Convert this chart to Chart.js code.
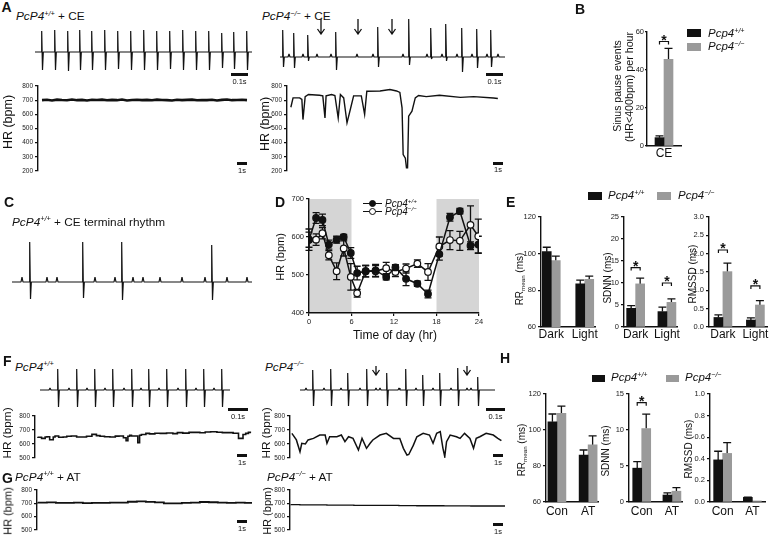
<!DOCTYPE html>
<html>
<head>
<meta charset="utf-8">
<title>Pcp4 heart rate figure</title>
<script src="https://cdn.jsdelivr.net/npm/chart.js@4.4.1/dist/chart.umd.min.js"></script>
<style>
  body { margin: 0; background: #fff; }
  #fig { position: relative; width: 773px; height: 544px; overflow: hidden;
         font-family: "Liberation Sans", Arial, sans-serif; color: #111; }
  #fig canvas { position: absolute; }
  .t { position: absolute; white-space: nowrap; line-height: 1; }
  sup { font-size: 62%; position: relative; top: -0.55em; vertical-align: baseline; line-height: 0; }
  sub { font-size: 62%; position: relative; top: 0.3em; vertical-align: baseline; line-height: 0; }
  .box { position: absolute; box-sizing: border-box; }
</style>
</head>
<body>
<div id="fig"></div>
<script>
// ---------- data ----------

// A: ECG beats (px along the strip), R and S heights (px)
const ecgA1Beats = [7, 20, 33, 45, 57, 70, 83, 96, 109, 122, 135, 148, 161, 174, 187, 199, 212];
const ecgA1R = [21, 22, 21, 22, 21, 22, 21, 21, 22, 21, 21, 22, 21, 21, 19, 20, 21];
const ecgA1S = [18, 18, 19, 18, 18, 18, 17, 18, 18, 18, 17, 18, 18, 18, 16, 17, 18];
const ecgA2Beats = [3, 14, 28, 56, 98, 129, 151, 166, 182, 197, 211];
const ecgA2R = [27, 24, 22, 25, 30, 38, 29, 33, 29, 28, 27];
const ecgA2S = [10, 11, 4, 13, 10, 8, 2, 4, 15, 11, 10];
const ecgA2P = [9, 23, 37, 51, 77, 93, 123, 147, 162, 177, 192, 207, 218];

// A: heart rate traces (bpm); A1 sampled every 0.5 s, A2 as [s, bpm]
const hrA1 = [700, 703, 698, 704, 701, 699, 705, 700, 702, 698, 703, 701, 704, 699, 702, 700, 705, 698, 701, 703, 700,
              702, 699, 704, 701, 700, 698, 703, 700, 702, 704, 699, 701, 700, 703, 698, 702, 705, 700, 701, 703, 700];
const hrA2 = [[0, 650], [0.2, 716], [0.8, 716], [1.0, 705], [1.1, 563], [1.3, 725], [1.6, 740], [2.6, 735], [2.9, 730],
              [3.1, 575], [3.2, 730], [3.7, 740], [4.0, 733], [4.3, 575], [4.5, 740], [4.8, 716], [5.1, 540], [5.4, 634],
              [5.7, 730], [6.4, 730], [6.7, 600], [6.9, 763], [8.1, 765], [9.0, 775], [9.6, 765], [9.9, 755], [10.1, 646],
              [10.2, 316], [10.4, 290], [10.5, 223], [10.6, 223], [10.7, 587], [11.0, 622], [11.3, 716], [11.6, 733],
              [12.3, 725], [13.5, 735], [15.4, 720], [16.6, 725], [18.4, 715], [18.8, 712]];

// B: sinus pause events per hour
const bCats = ['CE'];
const bWT = [4.4], bWTErr = [0.9];
const bKO = [45.6], bKOErr = [5.8];
const bSig = [55];

// C: terminal rhythm strip
const ecgCBeats = [18, 71, 110, 200];
const ecgCR = [40, 40, 40, 37];
const ecgCS = [17, 16, 18, 18];
const ecgCP = [10, 35, 45, 83, 103, 121, 131, 148, 170, 193, 215, 235];

// D: HR over the day
const hours = [0, 1, 1.9, 2.8, 3.9, 4.9, 5.9, 6.8, 8, 9.4, 10.9, 12.2, 13.7, 15.3, 16.8, 18.4, 19.9, 21.3, 22.8, 23.9];
const hrWT = [593, 650, 645, 580, 593, 600, 558, 505, 510, 512, 495, 520, 490, 477, 450, 555, 652, 668, 577, 580];
const hrWTErr = [28, 14, 15, 12, 9, 7, 14, 18, 15, 16, 8, 7, 18, 7, 10, 16, 10, 7, 10, 22];
const hrKO = [593, 593, 610, 552, 510, 570, 495, 452, 510, 510, 518, 508, 517, 530, 508, 575, 592, 590, 632, 602];
const hrKOErr = [20, 15, 15, 12, 22, 20, 35, 10, 15, 15, 15, 12, 12, 10, 22, 25, 25, 25, 50, 45];
const nightBands = [[0, 6], [18, 24]];

// E: HRV, dark vs light
const eCats = ['Dark', 'Light'];
const eRrWT = [101.1, 83.5], eRrWTErr = [2.4, 2.1];
const eRrKO = [96.2, 86], eRrKOErr = [2.5, 1.8];
const eSdWT = [4.25, 3.5], eSdWTErr = [0.6, 1.0];
const eSdKO = [9.8, 5.6], eSdKOErr = [1.3, 0.8];
const eSdSig = [13.5, 10];
const eRmWT = [0.26, 0.19], eRmWTErr = [0.07, 0.06];
const eRmKO = [1.51, 0.6], eRmKOErr = [0.23, 0.12];
const eRmSig = [2.1, 1.12];

// F: ECG strips and HR traces ([s, bpm])
const ecgF1Beats = [18, 37, 55, 73, 92, 109, 127, 146, 164, 182];
const ecgF1R = [21, 21, 21, 21, 21, 21, 21, 21, 21, 21];
const ecgF1S = [17, 17, 17, 17, 17, 17, 17, 17, 17, 17];
const ecgF1P = [10, 29, 47, 65, 84, 101, 119, 138, 156, 174];
const ecgF2Beats = [13, 31, 48, 67, 87, 106, 123, 140, 158, 178];
const ecgF2R = [20, 21, 17, 21, 17, 21, 15, 17, 22, 13];
const ecgF2S = [16, 16, 16, 16, 16, 16, 16, 16, 16, 16];
const ecgF2P = [6, 24, 41, 60, 76, 80, 99, 116, 133, 151, 167, 171];
const hrF1 = [[0, 652], [0.4, 648], [0.8, 640], [1.0, 650], [1.3, 652], [1.7, 630], [1.9, 650], [2.3, 657], [2.8, 648],
              [3.2, 650], [3.7, 655], [4.3, 657], [4.8, 650], [5.4, 650], [6.0, 655], [6.5, 669], [6.9, 660], [7.4, 655],
              [8.0, 652], [8.6, 650], [9.0, 656], [9.5, 657], [9.8, 645], [10.0, 624], [10.2, 655], [10.4, 662], [11.1, 657],
              [11.3, 610], [11.5, 662], [12.0, 668], [12.4, 676], [13.0, 672], [13.6, 677], [14.3, 676], [15.0, 679],
              [15.5, 674], [16.1, 681], [16.8, 678], [17.4, 683], [18.0, 683], [18.6, 680], [19.2, 686], [19.9, 688],
              [20.5, 684], [21.1, 681], [21.7, 681], [22.3, 677], [22.8, 640], [23.1, 668], [23.4, 676], [23.7, 683]];
const hrF2 = [[0.1, 676], [0.6, 629], [1.0, 545], [1.2, 605], [1.6, 600], [1.9, 629], [2.5, 640], [3.2, 664], [3.8, 664],
              [4.0, 605], [4.3, 652], [5.1, 652], [5.6, 664], [6.0, 617], [6.4, 652], [6.9, 640], [7.5, 557], [7.9, 640],
              [8.4, 569], [8.8, 605], [9.1, 629], [9.9, 664], [10.6, 676], [11.4, 640], [12.1, 640], [12.5, 569],
              [12.9, 521], [13.1, 525], [13.6, 590], [14.0, 652], [14.7, 676], [15.4, 664], [15.8, 605], [16.2, 676],
              [16.6, 688], [16.9, 569], [17.1, 510], [17.3, 617], [17.7, 664], [18.4, 652], [18.8, 640], [19.3, 676],
              [19.9, 640], [20.3, 569], [20.6, 640], [21.0, 652], [21.7, 676], [22.5, 664], [23.0, 640], [23.4, 624]];

// G: HR with atropine, one value per second
const hrG1 = [706, 705, 707, 704, 703, 706, 702, 704, 703, 705, 706, 712, 714, 711, 707, 700, 699, 703, 706, 710, 708, 705, 704, 706, 703];
const hrG2 = [692, 690, 689, 689, 688, 687, 686, 686, 685, 685, 684, 684, 684, 683, 683, 682, 682, 682, 681, 681, 681, 680, 680, 680, 680];

// H: HRV, control vs atropine
const hCats = ['Con', 'AT'];
const hRrWT = [104.6, 86.1], hRrWTErr = [4.3, 2.8];
const hRrKO = [109.3, 91.7], hRrKOErr = [4, 5];
const hSdWT = [4.7, 0.97], hSdWTErr = [0.9, 0.3];
const hSdKO = [10.2, 1.5], hSdKOErr = [2, 0.5];
const hSdSig = [13.8, null];
const hRmWT = [0.39, 0.043], hRmWTErr = [0.08, 0.003];
const hRmKO = [0.45, 0.01], hRmKOErr = [0.1, 0];

// ---------- helpers ----------
const INK = '#111';
const GREY = '#9a9a9a';
const FONT = '"Liberation Sans", Arial, sans-serif';
Chart.defaults.font.family = FONT;
Chart.defaults.color = INK;

const fig = document.getElementById('fig');
const PAD = 16;

function canvasFor(p, yw, xh) {
  const c = document.createElement('canvas');
  const w = p.r - p.l + yw + 2 * PAD, h = p.b - p.t + xh + 2 * PAD;
  c.width = w; c.height = h;
  c.style.left = (p.l - yw - PAD) + 'px';
  c.style.top = (p.t - PAD) + 'px';
  c.style.width = w + 'px';
  c.style.height = h + 'px';
  fig.appendChild(c);
  return c;
}

function build(p, yw, xh, type, datasets, scales, plugins) {
  return new Chart(canvasFor(p, yw, xh), {
    type,
    data: { datasets },
    options: {
      responsive: false, animation: false, devicePixelRatio: 1,
      layout: { padding: PAD },
      plugins: { legend: { display: false }, tooltip: { enabled: false } },
      scales
    },
    plugins: plugins || []
  });
}

function yAxis(min, max, step, yw, size, fmt, tick) {
  return {
    type: 'linear', min, max,
    afterFit: s => { s.width = yw; },
    border: { display: true, color: INK, width: 1.4, z: 1 },
    grid: { display: true, drawOnChartArea: false, drawTicks: true, tickLength: tick || 3, color: INK, lineWidth: 1.2 },
    ticks: { stepSize: step, font: { size }, color: '#222', padding: tick ? 1 : 2, callback: fmt || (v => v) }
  };
}

const hidden = (min, max) => ({ type: 'linear', min, max, display: false });

function catAxis(cats, pos, xh, pad) {
  return {
    type: 'linear', min: 0, max: 1, offset: false,
    afterFit: s => { s.height = xh; },
    afterBuildTicks: s => { s.ticks = pos.map(v => ({ value: v })); },
    border: { display: true, color: INK, width: 1.4 },
    grid: { display: false, drawTicks: false },
    ticks: { autoSkip: false, maxRotation: 0, font: { size: 12 }, color: INK, padding: pad, callback: (v, i) => cats[i] }
  };
}

// error bars (bars: upward only, lines: both ways), drawn behind the marks
const errorBars = {
  id: 'errorBars',
  beforeDatasetsDraw(chart) {
    const ctx = chart.ctx, ys = chart.scales.y;
    const isBar = chart.config.type === 'bar';
    ctx.save();
    ctx.strokeStyle = INK;
    ctx.lineWidth = 1.3;
    chart.data.datasets.forEach((ds, di) => {
      if (!ds.err) return;
      const half = isBar ? 4 : 3.5;
      chart.getDatasetMeta(di).data.forEach((el, i) => {
        const e = ds.err[i];
        if (!e) return;
        const v = ds.data[i].y;
        const top = ys.getPixelForValue(v + e);
        const bot = isBar ? el.y : ys.getPixelForValue(v - e);
        ctx.beginPath();
        ctx.moveTo(el.x, bot); ctx.lineTo(el.x, top);
        ctx.moveTo(el.x - half, top); ctx.lineTo(el.x + half, top);
        if (!isBar) { ctx.moveTo(el.x - half, bot); ctx.lineTo(el.x + half, bot); }
        ctx.stroke();
      });
    });
    ctx.restore();
  }
};

// significance bracket with star between the two bars of a group
const sigStars = {
  id: 'sigStars',
  afterDatasetsDraw(chart) {
    const levels = chart.data.datasets[1].sig;
    if (!levels) return;
    const ctx = chart.ctx, ys = chart.scales.y;
    const m0 = chart.getDatasetMeta(0), m1 = chart.getDatasetMeta(1);
    ctx.save();
    ctx.strokeStyle = INK; ctx.fillStyle = INK; ctx.lineWidth = 1.2;
    ctx.font = 'bold 14px ' + FONT; ctx.textAlign = 'center'; ctx.textBaseline = 'alphabetic';
    levels.forEach((lv, i) => {
      if (lv == null) return;
      const x0 = m0.data[i].x, x1 = m1.data[i].x, py = ys.getPixelForValue(lv);
      ctx.beginPath();
      ctx.moveTo(x0, py + 3); ctx.lineTo(x0, py); ctx.lineTo(x1, py); ctx.lineTo(x1, py + 3);
      ctx.stroke();
      ctx.fillText('*', (x0 + x1) / 2, py + 3);
    });
    ctx.restore();
  }
};

// grey night-time shading
const shading = {
  id: 'shading',
  beforeDraw(chart) {
    const ctx = chart.ctx, xs = chart.scales.x, a = chart.chartArea;
    ctx.save();
    ctx.fillStyle = '#d5d5d5';
    nightBands.forEach(([s, e]) => {
      const x0 = xs.getPixelForValue(s), x1 = xs.getPixelForValue(e);
      ctx.fillRect(x0, a.top, x1 - x0, a.bottom - a.top);
    });
    ctx.restore();
  }
};

function ecgPoints(w, beats, r, s, pw, ph) {
  const ev = [];
  beats.forEach((b, i) => ev.push([b - 1, 0], [b - 0.3, r[i]], [b + 0.5, -s[i]], [b + 1.3, 0]));
  (pw || []).forEach(p => ev.push([p - 1, 0], [p, ph], [p + 1, 0]));
  ev.sort((a, b) => a[0] - b[0]);
  return [{ x: 0, y: 0 }, ...ev.map(e => ({ x: e[0], y: e[1] })), { x: w, y: 0 }];
}

function ecgStrip(p, base, beats, r, s, pw, ph) {
  const w = p.r - p.l;
  build(p, 0, 0, 'line', [{
    data: ecgPoints(w, beats, r, s, pw, ph),
    borderColor: INK, borderWidth: 1.2, pointRadius: 0, borderJoinStyle: 'bevel'
  }], { x: hidden(0, w), y: hidden(-(p.b - base), base - p.t) });
}

function hrTrace(p, pts, xmin, xmax, ymin, ymax, yw, width, stepped) {
  build(p, yw, 0, 'line', [{
    data: pts.map(([x, y]) => ({ x, y })),
    borderColor: INK, borderWidth: width, pointRadius: 0, stepped: stepped || false
  }], { x: hidden(xmin, xmax), y: yAxis(ymin, ymax, 100, yw, 6.5) });
}

function barPanel(p, cats, pos, wt, wtErr, ko, koErr, sig, y, yw, xh, pad) {
  const set = (vals, err, color) => ({
    data: vals.map((v, i) => ({ x: pos[i], y: v })),
    backgroundColor: color, barThickness: 9, borderWidth: 0, err
  });
  const d1 = set(ko, koErr, GREY);
  d1.sig = sig;
  build(p, yw, xh, 'bar', [set(wt, wtErr, INK), d1],
        { x: catAxis(cats, pos, xh, pad), y }, [errorBars, sigStars]);
}

function text(html, x, y, css) {
  const d = document.createElement('div');
  d.className = 't';
  d.innerHTML = html;
  d.style.left = x + 'px';
  d.style.top = y + 'px';
  if (css) d.style.cssText += ';' + css;
  fig.appendChild(d);
  return d;
}
const vlabel = (html, cx, cy, size) =>
  text(html, cx, cy, `font-size:${size}px;transform:translate(-50%,-50%) rotate(-90deg)`);
const panel = (l, x, y) => text(l, x, y, 'font-weight:bold;font-size:14px');
const wt = '<i>Pcp4<sup>+/+</sup></i>', ko = '<i>Pcp4<sup>−/−</sup></i>';
const WT = '<i>PcP4<sup>+/+</sup></i>', KO = '<i>PcP4<sup>−/−</sup></i>';

function box(x, y, w, h, css) {
  const d = document.createElement('div');
  d.className = 'box';
  d.style.cssText += `;left:${x}px;top:${y}px;width:${w}px;height:${h}px;` + (css || '');
  fig.appendChild(d);
}
function scaleBar(x, y, w, label) {
  box(x, y, w, 3, 'background:' + INK);
  text(label, x + w / 2, y + 4.5, 'font-size:7.5px;transform:translateX(-50%)');
}
function arrow(x, y, h) {
  const d = document.createElement('div');
  d.className = 'box';
  d.style.cssText += `;left:${x - 5}px;top:${y}px;width:10px;height:${h}px`;
  d.innerHTML = `<svg width="10" height="${h}"><path d="M5 0 V${h - 1} M1.5 ${h - 6} L5 ${h - 1} L8.5 ${h - 6}" stroke="#111" stroke-width="1.3" fill="none"/></svg>`;
  fig.appendChild(d);
}

// ---------- panel A ----------
panel('A', 1.5, 0);
text(WT + ' + CE', 16, 11, 'font-size:11.8px');
text(KO + ' + CE', 262, 11, 'font-size:11.8px');
ecgStrip({ l: 35, t: 26, r: 252, b: 78 }, 52, ecgA1Beats, ecgA1R, ecgA1S);
ecgStrip({ l: 280, t: 14, r: 505, b: 80 }, 57, ecgA2Beats, ecgA2R, ecgA2S, ecgA2P, 3);
[321, 357.7, 392.3].forEach(x => arrow(x, 18.5, 16));
scaleBar(231, 73, 17, '0.1s');
scaleBar(486, 73, 17, '0.1s');
hrTrace({ l: 38, t: 86, r: 252, b: 171 }, hrA1.map((v, i) => [i * 0.5, v]), -0.4, 21, 200, 800, 20, 2.6);
hrTrace({ l: 287, t: 86, r: 505, b: 171 }, hrA2, -0.35, 19.45, 200, 800, 20, 1.4);
vlabel('HR (bpm)', 7.5, 122, 12.5);
vlabel('HR (bpm)', 265, 124, 12.5);
scaleBar(237, 162, 10, '1s');
scaleBar(493, 161.5, 10, '1s');

// ---------- panel B ----------
panel('B', 575, 1.5);
barPanel({ l: 647, t: 32, r: 681, b: 146 }, bCats, [0.5], bWT, bWTErr, bKO, bKOErr, bSig,
         yAxis(0, 60, 20, 14, 7.5, null, 2), 14, 14, 0);
vlabel('Sinus pause events', 616.5, 86, 10.5);
vlabel('(HR&lt;400bpm) per hour', 628.5, 86.7, 10.7);
box(687, 29.3, 14, 8, 'background:' + INK);
box(687, 42.7, 14, 8, 'background:' + GREY);
text(wt, 708, 27.7, 'font-size:11.5px');
text(ko, 708, 41, 'font-size:11.5px');

// ---------- panel C ----------
panel('C', 4, 195);
text(WT + ' + CE terminal rhythm', 12, 216.5, 'font-size:11.8px');
ecgStrip({ l: 12, t: 236, r: 252, b: 304 }, 282, ecgCBeats, ecgCR, ecgCS, ecgCP, 5);

// ---------- panel D ----------
panel('D', 275, 195);
build({ l: 309, t: 199, r: 479, b: 313 }, 20, 14, 'line', [
  { data: hours.map((h, i) => ({ x: h, y: hrWT[i] })), err: hrWTErr, borderColor: INK, borderWidth: 1.5,
    pointRadius: 3.3, pointBackgroundColor: INK, pointBorderColor: INK, pointBorderWidth: 1.2 },
  { data: hours.map((h, i) => ({ x: h, y: hrKO[i] })), err: hrKOErr, borderColor: INK, borderWidth: 1.5,
    pointRadius: 3.3, pointBackgroundColor: '#fff', pointBorderColor: INK, pointBorderWidth: 1.2 }
], {
  x: {
    type: 'linear', min: 0, max: 24,
    afterFit: s => { s.height = 14; },
    border: { display: true, color: INK, width: 1.4, z: 1 },
    grid: { display: true, drawOnChartArea: false, drawTicks: true, tickLength: 3, color: INK, lineWidth: 1.2 },
    ticks: { stepSize: 6, font: { size: 7.5 }, color: '#222', padding: 1 }
  },
  y: yAxis(400, 700, 100, 20, 7.5)
}, [shading, errorBars]);
vlabel('HR (bpm)', 280, 256.5, 11);
text('Time of day (hr)', 395, 328.5, 'font-size:12px;transform:translateX(-50%)');
box(363, 202.6, 19, 1.4, 'background:' + INK);
box(369.2, 199.8, 7, 7, 'border:1.3px solid #111;border-radius:50%;background:#111');
text(wt, 385, 198.5, 'font-size:10px');
box(363, 211, 19, 1.4, 'background:' + INK);
box(369.2, 208.2, 7, 7, 'border:1.3px solid #111;border-radius:50%;background:#fff');
text(ko, 385, 206.9, 'font-size:10px');

// ---------- panel E ----------
panel('E', 506, 195);
box(588, 192, 14, 8, 'background:' + INK);
text(wt, 608, 190.3, 'font-size:11.5px');
box(657, 192, 14, 8, 'background:' + GREY);
text(ko, 678, 190.3, 'font-size:11.5px');
barPanel({ l: 541, t: 217, r: 595, b: 327 }, eCats, [0.19, 0.81], eRrWT, eRrWTErr, eRrKO, eRrKOErr, null,
         yAxis(60, 120, 20, 18, 7.5), 18, 14, 0);
barPanel({ l: 624, t: 217, r: 677, b: 327 }, eCats, [0.22, 0.81], eSdWT, eSdWTErr, eSdKO, eSdKOErr, eSdSig,
         yAxis(0, 25, 5, 18, 7.5), 18, 14, 0);
barPanel({ l: 709, t: 217, r: 767, b: 327 }, eCats, [0.24, 0.8], eRmWT, eRmWTErr, eRmKO, eRmKOErr, eRmSig,
         yAxis(0, 3, 0.5, 18, 7.5, v => v.toFixed(1)), 18, 14, 0);
vlabel('RR<sub>mean</sub> (ms)', 520, 279, 10);
vlabel('SDNN (ms)', 608, 277.5, 10);
vlabel('RMSSD (ms)', 693, 274, 10);

// ---------- panel F ----------
panel('F', 3, 354);
text(WT, 15, 361.5, 'font-size:11.8px');
text(KO, 265, 361.5, 'font-size:11.8px');
ecgStrip({ l: 40, t: 364, r: 230, b: 412 }, 390, ecgF1Beats, ecgF1R, ecgF1S, ecgF1P, 2);
ecgStrip({ l: 300, t: 364, r: 495, b: 412 }, 390, ecgF2Beats, ecgF2R, ecgF2S, ecgF2P, 2);
[375.7, 466.7].forEach(x => arrow(x, 361.5, 10));
scaleBar(228, 408, 20, '0.1s');
scaleBar(486, 408, 19, '0.1s');
hrTrace({ l: 35, t: 416, r: 252, b: 458 }, hrF1, -0.33, 23.8, 500, 800, 20, 1.6, 'after');
hrTrace({ l: 290, t: 416, r: 505, b: 458 }, hrF2, -0.11, 23.8, 500, 800, 20, 1.5);
vlabel('HR (bpm)', 8.3, 432.5, 11.8);
vlabel('HR (bpm)', 266.7, 432.5, 11.8);
scaleBar(237, 454, 10, '1s');
scaleBar(493, 454, 10, '1s');

// ---------- panel G ----------
panel('G', 2, 471);
text(WT + ' + AT', 15, 471.5, 'font-size:11.8px');
text(KO + ' + AT', 267, 471.5, 'font-size:11.8px');
hrTrace({ l: 37, t: 490, r: 252, b: 530 }, hrG1.map((v, i) => [i, v]), -0.1, 23.8, 500, 800, 20, 1.8, 'after');
hrTrace({ l: 290, t: 490, r: 505, b: 530 }, hrG2.map((v, i) => [i, v]), -0.1, 23.8, 500, 800, 20, 1.3, 'after');
vlabel('HR (bpm)', 8.3, 511, 11);
vlabel('HR (bpm)', 266.7, 511, 11);
scaleBar(237, 520, 10, '1s');
scaleBar(493, 523, 10, '1s');

// ---------- panel H ----------
panel('H', 500, 351);
box(592, 375, 13, 7, 'background:' + INK);
text(wt, 611, 372.4, 'font-size:11.5px');
box(666, 375, 13, 7, 'background:' + GREY);
text(ko, 685, 372.4, 'font-size:11.5px');
barPanel({ l: 546, t: 394, r: 598, b: 502 }, hCats, [0.21, 0.81], hRrWT, hRrWTErr, hRrKO, hRrKOErr, null,
         yAxis(60, 120, 20, 18, 7.5), 18, 14, 2);
barPanel({ l: 629, t: 394, r: 682, b: 502 }, hCats, [0.24, 0.81], hSdWT, hSdWTErr, hSdKO, hSdKOErr, hSdSig,
         yAxis(0, 15, 5, 18, 7.5), 18, 14, 2);
barPanel({ l: 710, t: 394, r: 765, b: 502 }, hCats, [0.23, 0.77], hRmWT, hRmWTErr, hRmKO, hRmKOErr, null,
         yAxis(0, 1, 0.2, 18, 7.5, v => v.toFixed(1)), 18, 14, 2);
vlabel('RR<sub>mean</sub> (ms)', 522, 450, 10);
vlabel('SDNN (ms)', 606, 451, 10);
vlabel('RMSSD (ms)', 689, 448.5, 10);
</script>
</body>
</html>
